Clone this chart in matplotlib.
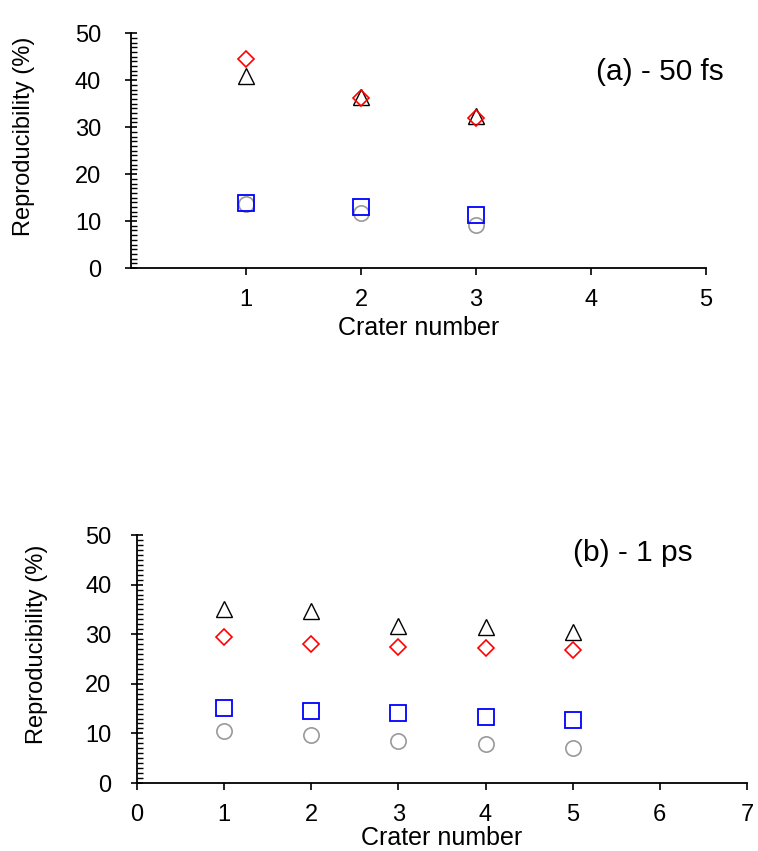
import numpy as np
import matplotlib
matplotlib.use('Agg')
import matplotlib.pyplot as plt
from matplotlib.ticker import MultipleLocator

plt.rcParams.update({'font.family': ['Liberation Sans', 'DejaVu Sans'], 'font.size': 17})

# ── Data ─────────────────────────────────────────────
crater_a = [1, 2, 3]
tri_a = [40.8, 36.4, 32.3]
dia_a = [44.6, 36.2, 32.0]
sq_a = [13.9, 13.1, 11.4]
circ_a = [13.6, 11.8, 9.1]

crater_b = [1, 2, 3, 4, 5]
tri_b = [35.0, 34.6, 31.7, 31.5, 30.4]
dia_b = [29.4, 28.1, 27.4, 27.2, 26.8]
sq_b = [15.2, 14.5, 14.2, 13.4, 12.8]
circ_b = [10.4, 9.6, 8.5, 7.8, 7.0]

MS = 11


def panel(ax, x, tri, dia, sq, circ, xmax, label, lx, ly, show_zero, ypad, ylab_x, xlab_y):
    ax.plot(x, tri, '^', ms=MS, mfc='none', mec='black', mew=1.0, ls='none')
    ax.plot(x, dia, 'D', ms=MS * 0.75, mfc='none', mec='#ff0000', mew=1.2, ls='none')
    ax.plot(x, circ, 'o', ms=MS, mfc='none', mec='#999999', mew=1.2, ls='none')
    ax.plot(x, sq, 's', ms=MS, mfc='none', mec='#0000ff', mew=1.3, ls='none')
    ax.set_xlim(0, xmax)
    ax.set_ylim(0, 50)
    ax.set_xticks(range(0 if show_zero else 1, xmax + 1))
    ax.set_yticks(range(0, 51, 10))
    ax.yaxis.set_minor_locator(MultipleLocator(1))
    for s in ['top', 'right']:
        ax.spines[s].set_visible(False)
    for s in ['left', 'bottom']:
        ax.spines[s].set_linewidth(1.3)
    ax.tick_params(axis='y', which='major', direction='inout', length=9, width=1.2, pad=ypad)
    ax.tick_params(axis='y', which='minor', direction='in', length=4, width=1.0)
    ax.tick_params(axis='x', which='major', direction='out', length=5, width=1.2, pad=10)
    ax.set_xlabel("Crater number", fontsize=18)
    ax.set_ylabel("Reproducibility (%)")
    ax.yaxis.set_label_coords(ylab_x, 0.56)
    ax.xaxis.set_label_coords(0.5, xlab_y)
    ax.text(lx, ly, label, transform=ax.transAxes, ha='right', va='center', fontsize=21.5)


fig = plt.figure(figsize=(7.58, 8.51), dpi=100)
ax1 = fig.add_axes([0.1728, 0.685, 0.7586, 0.276])
ax2 = fig.add_axes([0.1807, 0.0799, 0.8047, 0.2914])

panel(ax1, crater_a, tri_a, dia_a, sq_a, circ_a, 5, "(a) - 50 fs", 1.03, 0.834, False,
      17, -0.167, -0.205)
panel(ax2, crater_b, tri_b, dia_b, sq_b, circ_b, 7, "(b) - 1 ps", 0.911, 0.927, True,
      14, -0.146, -0.172)

plt.savefig("out.png", dpi=100)
